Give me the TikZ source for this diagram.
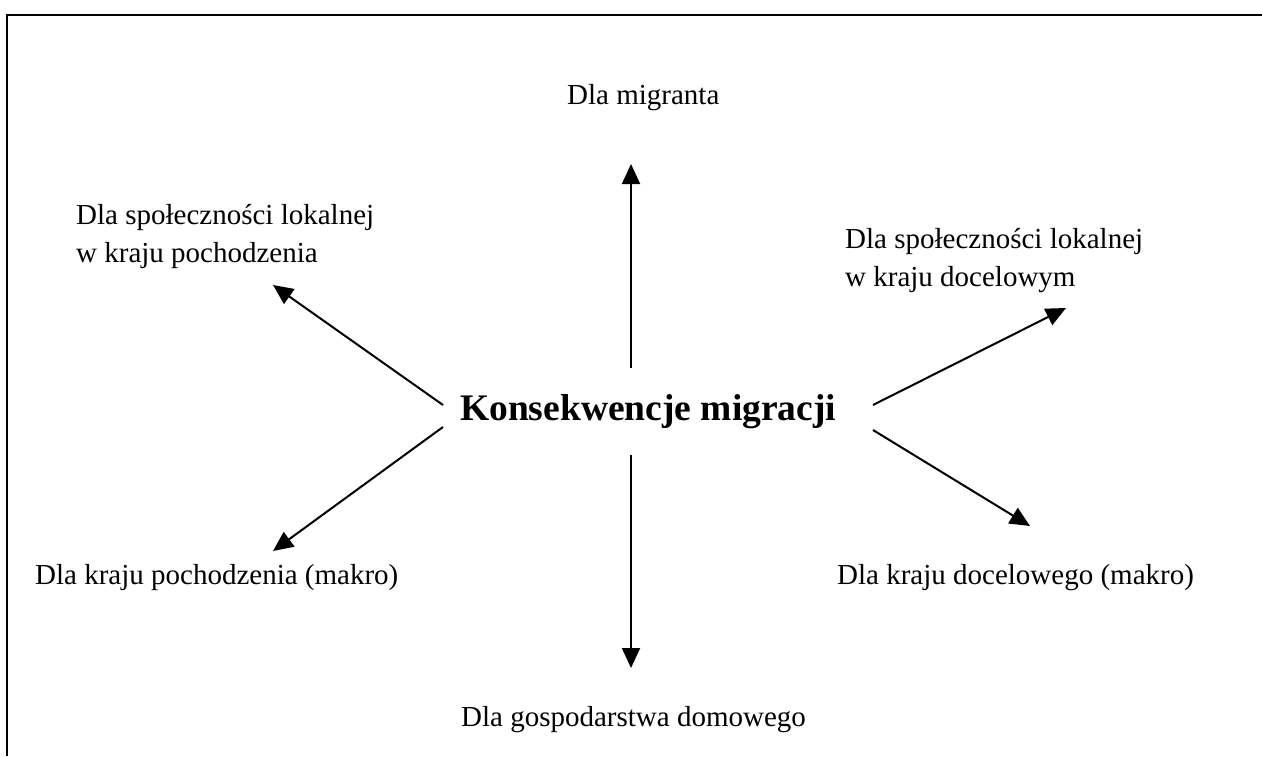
\documentclass[tikz,border=0pt]{standalone}
\usepackage{fontspec}
\setmainfont{Liberation Serif}
\usetikzlibrary{arrows.meta}
\begin{document}
\begin{tikzpicture}[x=1pt,y=-1pt,
  lbl/.style={font=\fontsize{29}{38}\selectfont, inner sep=0pt, align=left},
  conn/.style={line width=2pt, -{Triangle[length=20pt,width=18pt]}},
  frame/.style={line width=2.5pt}]
\useasboundingbox (0,0) rectangle (1262,756);
\coordinate (tl) at (7,15);
\coordinate (tr) at (1262,15);
\coordinate (bl) at (7,756);
\draw[frame] (tr) -- (tl) -- (bl);
\node[font=\fontsize{37.5}{42}\selectfont\bfseries, inner sep=0pt, anchor=west] (c) at (460,412) {Konsekwencje migracji};
\node[lbl, anchor=west] (mig) at (567,98) {Dla migranta};
\node[lbl, anchor=west] (spo) at (76,236) {Dla społeczności lokalnej\\w kraju pochodzenia};
\node[lbl, anchor=west] (sdo) at (845,261) {Dla społeczności lokalnej\\w kraju docelowym};
\node[lbl, anchor=west] (kp) at (35,578) {Dla kraju pochodzenia (makro)};
\node[lbl, anchor=west] (kd) at (837,578) {Dla kraju docelowego (makro)};
\node[lbl, anchor=west] (gd) at (461,720) {Dla gospodarstwa domowego};
\coordinate (a1s) at (631,368); \coordinate (a1e) at (631,164);
\coordinate (a2s) at (631,455); \coordinate (a2e) at (631,668);
\coordinate (a3s) at (443,405); \coordinate (a3e) at (273,285);
\coordinate (a4s) at (873,405); \coordinate (a4e) at (1066,308);
\coordinate (a5s) at (443,427); \coordinate (a5e) at (273,551);
\coordinate (a6s) at (873,430); \coordinate (a6e) at (1030,526);
\draw[conn] (a1s) -- (a1e);
\draw[conn] (a2s) -- (a2e);
\draw[conn] (a3s) -- (a3e);
\draw[conn] (a4s) -- (a4e);
\draw[conn] (a5s) -- (a5e);
\draw[conn] (a6s) -- (a6e);
\end{tikzpicture}
\end{document}
